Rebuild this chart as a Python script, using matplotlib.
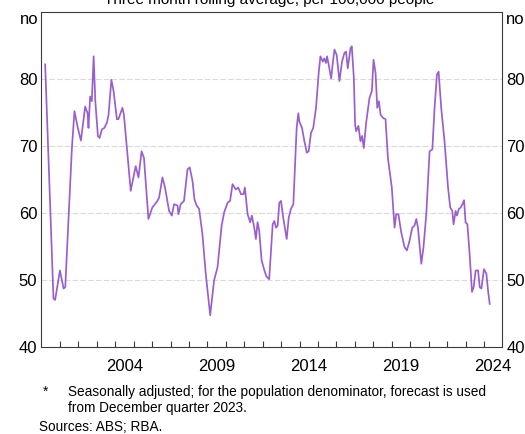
import matplotlib
matplotlib.use("Agg")
import matplotlib.pyplot as plt
from matplotlib.ticker import FixedLocator

plt.rcParams.update({"font.family": ["Liberation Sans", "DejaVu Sans"]})
LINE, AXIS, GRID = "#9a5fce", "#3a3a3a", "#dadada"

# three-month rolling average, per 100,000 people
dates = [
    2000.20, 2000.65, 2000.74, 2001.00, 2001.20, 2001.29, 2001.65, 2001.79, 2001.97, 2002.14,
    2002.37, 2002.50, 2002.55, 2002.64, 2002.73, 2002.83, 2002.92, 2003.06, 2003.15, 2003.28,
    2003.41, 2003.55, 2003.64, 2003.79, 2003.91, 2004.09, 2004.17, 2004.39, 2004.47, 2004.84,
    2005.11, 2005.26, 2005.43, 2005.56, 2005.80, 2006.01, 2006.29, 2006.38, 2006.56, 2006.70,
    2006.92, 2007.07, 2007.19, 2007.38, 2007.43, 2007.55, 2007.73, 2007.92, 2008.04, 2008.19,
    2008.30, 2008.42, 2008.55, 2008.73, 2008.91, 2009.15, 2009.28, 2009.36, 2009.55, 2009.77,
    2009.91, 2010.09, 2010.23, 2010.36, 2010.54, 2010.67, 2010.82, 2010.96, 2011.03, 2011.18,
    2011.32, 2011.41, 2011.54, 2011.63, 2011.72, 2011.81, 2011.94, 2012.08, 2012.20, 2012.35,
    2012.54, 2012.63, 2012.72, 2012.81, 2012.90, 2012.99, 2013.11, 2013.30, 2013.41, 2013.53,
    2013.66, 2013.77, 2013.84, 2013.93, 2013.98, 2014.13, 2014.26, 2014.39, 2014.49, 2014.62,
    2014.74, 2014.89, 2015.04, 2015.13, 2015.26, 2015.34, 2015.43, 2015.49, 2015.58, 2015.71,
    2015.80, 2015.89, 2016.01, 2016.16, 2016.30, 2016.43, 2016.52, 2016.61, 2016.76, 2016.83,
    2016.94, 2017.01, 2017.07, 2017.19, 2017.30, 2017.39, 2017.48, 2017.61, 2017.79, 2017.92,
    2018.01, 2018.12, 2018.21, 2018.30, 2018.39, 2018.52, 2018.66, 2018.79, 2019.00, 2019.15,
    2019.24, 2019.36, 2019.51, 2019.69, 2019.82, 2019.96, 2020.11, 2020.23, 2020.33, 2020.42,
    2020.60, 2020.72, 2020.87, 2021.05, 2021.20, 2021.32, 2021.45, 2021.54, 2021.68, 2021.86,
    2022.05, 2022.17, 2022.28, 2022.35, 2022.46, 2022.53, 2022.64, 2022.73, 2022.83, 2022.92,
    2023.00, 2023.10, 2023.22, 2023.35, 2023.44, 2023.55, 2023.68, 2023.77, 2023.86, 2024.00,
    2024.13, 2024.22, 2024.31,
]
values = [
    82.2, 47.2, 47.0, 51.4, 48.7, 48.9, 69.7, 75.2, 72.7, 70.8,
    75.9, 74.9, 72.7, 77.4, 76.7, 83.4, 76.7, 71.5, 71.2, 72.5,
    72.7, 73.5, 74.7, 79.9, 78.2, 74.0, 74.0, 75.7, 74.7, 63.3,
    67.0, 65.3, 69.2, 68.2, 59.1, 60.8, 61.8, 62.3, 65.3, 63.8,
    60.3, 59.6, 61.3, 61.1, 59.8, 61.3, 61.8, 66.5, 66.8, 64.8,
    62.0, 61.1, 60.6, 56.8, 50.9, 44.7, 47.9, 49.9, 51.9, 58.1,
    60.1, 61.5, 61.8, 64.3, 63.5, 63.8, 62.8, 62.8, 63.8, 59.8,
    58.6, 59.6, 57.8, 56.1, 58.6, 57.3, 52.9, 51.5, 50.5, 50.1,
    58.3, 58.8, 57.8, 58.1, 61.5, 61.8, 59.3, 56.1, 59.3, 60.6,
    61.3, 68.2, 72.7, 74.9, 73.7, 72.7, 70.7, 69.0, 69.2, 72.0,
    72.7, 75.7, 81.1, 83.4, 82.6, 83.1, 82.4, 83.4, 82.1, 80.1,
    82.4, 84.4, 83.6, 79.7, 82.6, 83.9, 84.1, 81.6, 84.6, 84.9,
    80.2, 73.2, 72.2, 73.0, 70.7, 71.5, 69.7, 73.5, 77.2, 78.2,
    82.9, 80.9, 75.7, 76.7, 74.7, 74.2, 74.0, 68.2, 63.8, 57.8,
    59.8, 59.8, 57.1, 54.9, 54.4, 55.8, 57.8, 58.1, 59.1, 57.8,
    52.4, 54.9, 59.8, 69.2, 69.5, 75.7, 80.7, 81.1, 75.7, 70.7,
    63.8, 60.8, 60.3, 58.3, 60.3, 59.6, 60.6, 60.8, 61.3, 61.9,
    58.6, 58.3, 53.9, 48.2, 48.9, 51.4, 51.4, 48.9, 48.7, 51.6,
    50.9, 48.4, 46.4,
]

y_ticks = [40, 50, 60, 70, 80]
unit = "no"
year_ticks = list(range(2001, 2025))
year_labels = [2004, 2009, 2014, 2019, 2024]

fig = plt.figure(figsize=(5.25, 4.34), dpi=100)
ax = fig.add_axes([0.079, 0.201, 0.878, 0.771])

ax.plot(dates, values, color=LINE, lw=1.25, zorder=3)

ax.set_xlim(2000, 2025)
ax.set_ylim(40, 90)
for v in y_ticks[1:]:
    ax.axhline(v, color=GRID, lw=0.8, ls=(0, (5, 2)), zorder=1)

# years: inward ticks on the bottom, labels centred mid-year
ax.xaxis.set_major_locator(FixedLocator(year_ticks))
ax.xaxis.set_minor_locator(FixedLocator([y + 0.5 for y in year_labels]))
ax.set_xticklabels([])
ax.set_xticklabels([str(y) for y in year_labels], minor=True)
ax.tick_params(axis="x", which="major", direction="in", length=4, width=0.8, color=AXIS)
ax.tick_params(axis="x", which="minor", length=0, pad=9, labelsize=12)

ax.set_yticks(y_ticks)
ax.tick_params(axis="y", which="both", length=0, pad=3, labelsize=12,
               left=True, right=True, labelleft=True, labelright=True)
# unit label just under the top edge, on both sides
ax.text(-0.007, 1.0, unit, transform=ax.transAxes, ha="right", va="top", fontsize=12)
ax.text(1.007, 1.0, unit, transform=ax.transAxes, ha="left", va="top", fontsize=12)

for s in ax.spines.values():
    s.set_color(AXIS); s.set_linewidth(0.8)

fig.text(0.512, 0.990, "Three month rolling average, per 100,000 people",
         ha="center", va="baseline", fontsize=11)
fig.text(0.082, 0.097, "*", ha="left", va="center", fontsize=9.8)
fig.text(0.130, 0.097,
         "Seasonally adjusted; for the population denominator, forecast is used",
         ha="left", va="center", fontsize=9.8)
fig.text(0.130, 0.061, "from December quarter 2023.", ha="left", va="center", fontsize=9.8)
fig.text(0.074, 0.016, "Sources: ABS; RBA.", ha="left", va="center", fontsize=9.8)

fig.savefig("out.png", dpi=100, facecolor="white")
